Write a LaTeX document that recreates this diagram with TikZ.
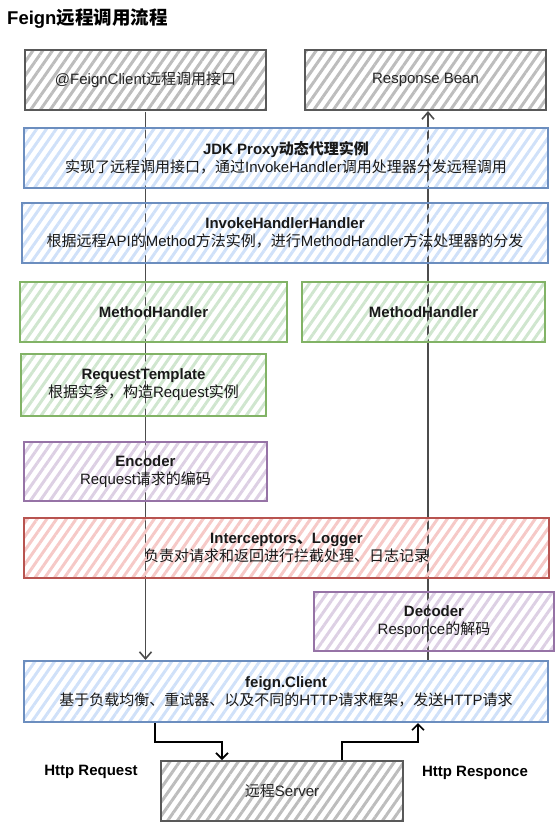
\documentclass[tikz,border=0pt]{standalone}
\usepackage{fontspec}
\setmainfont{Liberation Sans}
\newfontfamily\zhfont{Noto Sans CJK SC}
% switch to the CJK font for Chinese characters
\XeTeXinterchartokenstate=1
\newXeTeXintercharclass\zhclass
\count255="4E00
\loop\XeTeXcharclass\count255=\zhclass\advance\count255 by 1\ifnum\count255<"A000\repeat
\XeTeXcharclass"FF0C=\zhclass
\XeTeXcharclass"3001=\zhclass
\XeTeXinterchartoks 0 \zhclass={\begingroup\zhfont}
\XeTeXinterchartoks 4095 \zhclass={\begingroup\zhfont}
\XeTeXinterchartoks \zhclass 0={\endgroup}
\XeTeXinterchartoks \zhclass 4095={\endgroup}
\usetikzlibrary{patterns.meta,arrows.meta}
\pgfdeclarelayer{bg}
\pgfsetlayers{bg,main}
\definecolor{blueline}{HTML}{6C8EBF}
\definecolor{bluefill}{HTML}{D0E1F9}
\definecolor{greenline}{HTML}{82B366}
\definecolor{greenfill}{HTML}{D0E6CF}
\definecolor{purpleline}{HTML}{9673A6}
\definecolor{purplefill}{HTML}{DDD0E4}
\definecolor{redline}{HTML}{B85450}
\definecolor{redfill}{HTML}{F6C9C7}
\definecolor{grayline}{HTML}{595959}
\definecolor{grayfill}{HTML}{BDBDBD}
\begin{document}
\begin{tikzpicture}[
        x=1pt, y=-1pt,
        box/.style={rectangle, draw=#1line, line width=2pt, inner sep=0pt, align=center,
            pattern={Lines[angle=55,distance=8pt,line width=3pt]}, pattern color=#1fill,
            font=\fontsize{15}{18}\selectfont, text=black!90},
        callline/.style={draw=black!70, line width=1.8pt, -{Straight Barb[length=7pt,width=12pt,line width=1.6pt]}},
        httpline/.style={draw=black, line width=2pt, -{Straight Barb[length=6pt,width=12pt,line width=1.6pt]}},
        label/.style={font=\fontsize{15}{18}\selectfont\bfseries, inner sep=0pt}
    ]
    \useasboundingbox (0,0) rectangle (556,823);
    % Title
    \node (title) [anchor=west, inner sep=0pt, font=\fontsize{18.5}{22}\selectfont\bfseries] at (7,19) {Feign远程调用流程};
    % Boxes
    \node (client) [box=gray, text=black!85, minimum width=241pt, minimum height=60pt] at (145.5,80) {@FeignClient远程调用接口};
    \node (bean) [box=gray, text=black!85, minimum width=241pt, minimum height=60pt] at (425.5,80) {Response Bean};
    \node (proxy) [box=blue, minimum width=524pt, minimum height=60pt] at (286,158) {{\bfseries JDK Proxy动态代理实例}\\实现了远程调用接口，通过InvokeHandler调用处理器分发远程调用};
    \node (invoke) [box=blue, minimum width=526pt, minimum height=60pt] at (285,233) {{\bfseries InvokeHandlerHandler}\\根据远程API的Method方法实例，进行MethodHandler方法处理器的分发};
    \node (mhleft) [box=green, minimum width=267pt, minimum height=60pt] at (153.5,312) {\bfseries MethodHandler};
    \node (mhright) [box=green, minimum width=243pt, minimum height=60pt] at (423.5,312) {\bfseries MethodHandler};
    \node (template) [box=green, minimum width=245pt, minimum height=62pt] at (143.5,385) {{\bfseries RequestTemplate}\\根据实参，构造Request实例};
    \node (encoder) [box=purple, minimum width=243pt, minimum height=59pt] at (145.5,471.5) {{\bfseries Encoder}\\Request请求的编码};
    \node (inter) [box=red, minimum width=525pt, minimum height=60pt] at (286.5,548) {{\bfseries Interceptors、Logger}\\负责对请求和返回进行拦截处理、日志记录};
    \node (decoder) [box=purple, minimum width=240pt, minimum height=59pt] at (434,621.5) {{\bfseries Decoder}\\Responce的解码};
    \node (feign) [box=blue, minimum width=524pt, minimum height=61pt] at (286,691.5) {{\bfseries feign.Client}\\基于负载均衡、重试器、以及不同的HTTP请求框架，发送HTTP请求};
    \node (server) [box=gray, text=black!85, minimum width=242pt, minimum height=60pt] at (282,791) {远程Server};
    % Labels
    \node (reqlabel) [label] at (91,772) {Http Request};
    \node (resplabel) [label] at (475,773) {Http Responce};
    % Call and return lines
    \begin{pgfonlayer}{bg}
    \draw[callline] (client.south) -- (client.south |- feign.north);
    \draw[callline] (428,0 |- feign.north) -- (428,0 |- bean.south);
    \end{pgfonlayer}
    % Http request and response
    \draw[httpline] (155,0 |- feign.south) |- (222,742) -- (222,0 |- server.north);
    \draw[httpline] (342,0 |- server.north) |- (418,742) -- (418,0 |- feign.south);
\end{tikzpicture}
\end{document}
